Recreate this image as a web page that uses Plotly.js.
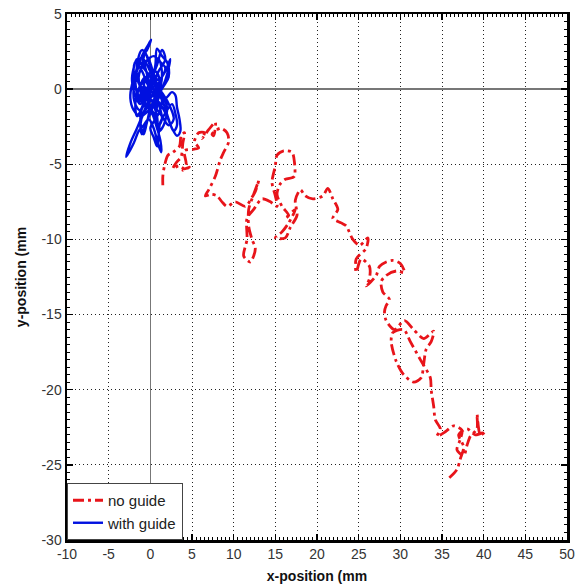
<!DOCTYPE html>
<html>
<head>
<meta charset="utf-8">
<script src="https://cdn.plot.ly/plotly-3.0.1.min.js"></script>
<style>html,body{margin:0;padding:0;background:#fff;}#chart{width:576px;height:585px;}</style>
</head>
<body>
<div id="chart"></div>
<script>
// "no guide" trajectory (mm)
var noGuideX = [1.5,1.5,1.7,2.1,2.7,3.5,3.7,4.1,3.9,3.7,3.1,2.7,3.4,4.1,4.7,3.9,4.3,4.1,5.2,5.8,5.3,5.8,6.5,6.2,7.0,7.8,7.6,7.4,8.4,9.2,9.4,8.8,8.4,7.8,7.0,6.6,7.3,8.0,8.6,9.2,10.2,11.4,12.2,12.6,13.0,12.4,11.8,11.8,12.2,12.6,12.0,11.2,11.6,11.6,12.4,13.4,14.4,15.2,15.0,14.6,15.0,15.2,16.0,17.0,17.3,17.3,17.0,16.2,15.6,15.2,15.8,16.6,16.2,17.4,16.6,15.8,15.0,16.2,16.8,17.6,17.4,18.0,18.6,19.5,20.7,21.3,21.9,22.5,21.9,22.9,23.5,24.3,25.1,26.1,25.9,24.7,24.7,25.3,26.3,26.3,25.9,27.1,27.5,28.3,29.1,30.0,30.5,29.5,28.3,27.7,27.9,28.7,28.3,28.1,28.3,29.3,30.5,31.6,32.8,34.0,33.7,33.1,32.8,32.5,31.6,30.4,29.5,28.9,29.1,30.4,31.2,32.4,33.6,33.7,34.0,34.2,34.8,34.4,35.4,36.4,37.4,37.2,36.8,37.6,38.0,38.4,39.2,39.2,39.6,40.2,39.0,38.0,37.0,37.6,37.2,36.8,35.8];
var noGuideY = [-6.4,-5.8,-5.1,-4.4,-4.2,-3.8,-3.1,-2.9,-3.6,-4.5,-4.9,-5.3,-5.1,-5.3,-5.2,-5.4,-5.0,-4.1,-4.0,-3.9,-3.5,-2.9,-2.9,-3.3,-2.7,-2.2,-3.1,-3.0,-2.6,-2.9,-3.5,-4.2,-4.7,-5.8,-6.7,-7.1,-7.0,-7.1,-7.5,-7.8,-7.5,-7.8,-7.2,-6.8,-6.1,-7.0,-8.0,-9.1,-10.0,-10.6,-11.5,-11.1,-10.0,-8.6,-8.0,-7.3,-7.5,-7.8,-7.1,-6.2,-5.1,-4.4,-4.1,-4.2,-4.9,-5.8,-5.9,-6.0,-6.3,-7.0,-7.8,-8.4,-8.6,-8.0,-8.9,-9.5,-9.9,-9.9,-9.2,-8.4,-7.4,-6.7,-7.1,-7.3,-7.1,-6.6,-7.3,-8.0,-8.6,-8.9,-9.1,-10.0,-10.4,-9.9,-10.6,-11.3,-12.2,-11.3,-11.8,-12.6,-13.1,-12.4,-11.8,-11.5,-11.4,-11.6,-12.2,-12.1,-12.4,-12.8,-13.5,-14.0,-14.4,-14.8,-15.4,-16.0,-15.4,-16.0,-16.6,-16.1,-16.8,-17.3,-18.3,-19.2,-19.5,-19.0,-18.1,-16.8,-16.2,-16.0,-16.8,-18.0,-19.2,-20.0,-21.1,-22.0,-22.6,-23.1,-22.8,-22.4,-22.7,-23.3,-24.0,-24.4,-23.7,-23.1,-22.6,-21.6,-23.0,-22.8,-23.0,-22.6,-23.0,-23.8,-24.6,-25.3,-25.9];

// "with guide" trajectory (mm)
var withGuideX = [0,0.5,1.0,1.4,0.8,-0.4,-1.4,-1.8,-1.2,-0.4,0.1,-0.2,-1.0,-1.6,-2.2,-2.4,-2.0,-1.2,-0.2,0.6,1.6,2.2,2.0,1.4,0.8,0.6,0.2,-0.6,-1.4,-1.6,-1.0,-0.2,0.4,1.0,1.8,2.6,3.0,3.2,3.5,3.6,3.2,2.6,2.0,1.2,0.4,-0.4,-1.0,-1.8,-2.0,-1.6,-0.8,0.2,0.8,1.2,1.3,0.9,0.4,-0.2,-0.8,-1.4,-2.0,-2.9,-2.4,-1.6,-1.0,-0.4,0.4,1.2,1.8,1.2,0.4,-0.6,-1.4,-2.0,-1.8,-1.2,-0.4,0.6,1.6,2.4,2.8,2.2,1.4,0.6,-0.2,-1.0,-1.6,-1.2,-0.6,0.2,0.8,1.4,1.8,1.0,0.2,-0.6,-1.2,-0.8,-0.4,0.2,0.8,1.0,1.6,2.0,1.4,0.6,-0.2,-0.8,-0.4,0.2,0.8,0.4,-0.2,0,
  -0.6,-1.2,-0.8,0.2,1.0,1.2,0.6,-0.2,-0.8,-0.6,0.2,0.8,0.6,0.0,-0.4,-1.0,-1.6,-1.8,-1.4,-0.6,0.4,1.0,1.4,1.0,0.4,-0.2,-0.8,-1.2,-1.0,-0.6,0.0,0.6,1.2,1.8,2.2,2.4,1.8,1.0,0.4,-0.2,-0.6,-1.0,-1.4,-1.0,-0.4,0.4,1.0,1.4,1.2,0.6,0.0,0.4,0.8,1.0,1.2,1.8,2.6,3.0,3.2,2.8,2.2,1.6,0.8,0.0,-0.8,-1.6,-2.0,-2.2,-1.8,-1.2,-0.6,0.0];
var withGuideY = [0,1.2,2.0,1.0,-0.5,-1.2,-0.5,0.8,2.0,2.6,3.3,3.0,2.2,1.2,0.3,-0.6,-1.4,-1.8,-1.4,-0.6,0.2,0.8,1.8,2.2,2.7,1.6,0.6,0.0,0.4,1.6,2.6,2.0,1.0,0.0,-0.6,-0.2,-0.4,-1.2,-2.0,-2.8,-3.1,-2.6,-1.8,-1.0,-0.4,0.4,1.2,1.8,1.0,-0.2,-0.8,-1.6,-2.6,-3.4,-4.2,-3.6,-2.6,-2.0,-2.4,-2.8,-3.6,-4.5,-3.6,-2.6,-1.8,-1.0,-0.2,0.6,1.4,1.8,2.2,1.8,1.0,0.0,-1.0,-1.4,-0.6,0.2,-0.4,-1.2,-2.0,-2.4,-1.8,-1.2,-0.4,0.4,-0.6,-1.0,-0.2,0.8,1.6,2.6,2.0,1.2,0.2,-0.6,-2.0,-3.0,-2.2,-1.0,-1.8,-2.8,-2.4,-1.2,-0.4,0.4,1.4,2.0,1.0,-0.2,-1.0,-1.8,-0.8,0,
  0.8,0.2,-0.8,-1.2,-0.6,0.4,1.2,1.0,0.2,-0.6,-0.8,-0.2,0.6,0.4,-0.2,-1.2,-1.8,-1.0,0.0,0.6,0.0,-1.0,-2.0,-2.4,-1.6,-1.2,-1.6,-2.4,-3.0,-2.4,-1.6,-0.8,-0.2,0.6,1.4,2.0,1.2,0.6,1.0,1.8,2.4,1.6,0.8,-0.2,-0.6,-0.4,0.2,-0.6,-1.4,-2.0,-2.6,-3.2,-3.8,-3.0,-2.2,-1.6,-1.0,-1.6,-2.4,-2.8,-2.0,-1.0,0.0,0.8,1.4,2.0,1.4,0.6,-0.4,-0.8,0.0,0.2];

var xTickVals = [-10,-5,0,5,10,15,20,25,30,35,40,45,50];
var yTickVals = [-30,-25,-20,-15,-10,-5,0,5];

var traces = [
  {x: noGuideX, y: noGuideY, type: 'scatter', mode: 'lines', name: 'no guide',
   line: {color: '#e8141a', width: 2.8, dash: '11px,4px,3px,4px', shape: 'spline', smoothing: 0.8}},
  {x: withGuideX, y: withGuideY, type: 'scatter', mode: 'lines', name: 'with guide',
   line: {color: '#0010e0', width: 2.4, shape: 'spline', smoothing: 1}}
];

var axisCommon = {
  showline: true, linecolor: '#000', linewidth: 2.5, mirror: 'allticks',
  ticks: 'inside', ticklen: 6, tickwidth: 1.5, tickcolor: '#000',
  showgrid: true, gridcolor: '#222', gridwidth: 1, griddash: '1px,3px',
  zeroline: true, zerolinecolor: '#777', zerolinewidth: 1.6,
  tickfont: {family: 'Liberation Sans, Arial, sans-serif', size: 14, color: '#333'},
  minor: {ticks: 'inside', ticklen: 3, tickwidth: 1, tickcolor: '#000', dtick: 0.5, showgrid: false}
};

var layout = {
  width: 576, height: 585,
  margin: {l: 67, r: 9, t: 14, b: 45},
  paper_bgcolor: '#fff', plot_bgcolor: '#fff',
  showlegend: true,
  xaxis: Object.assign({}, axisCommon, {
    range: [-10, 50], tickvals: xTickVals, ticktext: xTickVals.map(String),
    title: {text: 'x-position (mm', font: {family: 'Liberation Sans, Arial, sans-serif', size: 14, color: '#111', weight: 'bold'}, standoff: 10}
  }),
  yaxis: Object.assign({}, axisCommon, {
    range: [-30, 5], tickvals: yTickVals, ticktext: yTickVals.map(String),
    title: {text: 'y-position (mm', font: {family: 'Liberation Sans, Arial, sans-serif', size: 14, color: '#111', weight: 'bold'}, standoff: 12}
  }),
  legend: {
    x: 0, y: 0, xanchor: 'left', yanchor: 'bottom',
    bgcolor: '#fff', bordercolor: '#444', borderwidth: 1,
    font: {family: 'Liberation Sans, Arial, sans-serif', size: 15, color: '#222'},
    itemwidth: 30, tracegroupgap: 0
  }
};

Plotly.newPlot('chart', traces, layout, {staticPlot: true, displayModeBar: false});
</script>
</body>
</html>
